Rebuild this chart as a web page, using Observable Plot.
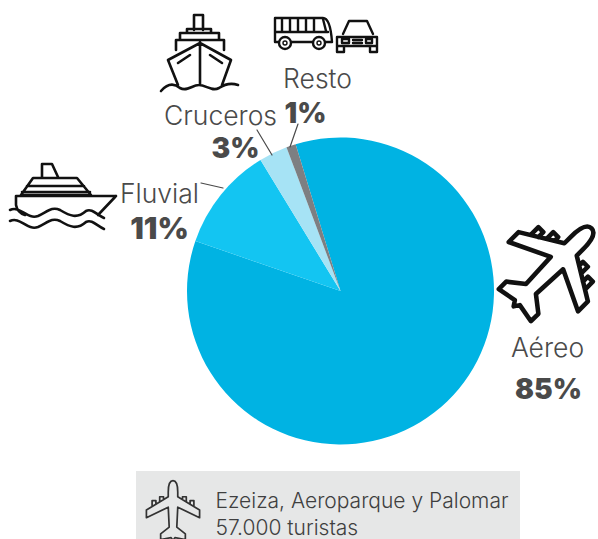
<!DOCTYPE html>
<html>
<head>
<meta charset="utf-8">
<script src="https://cdn.jsdelivr.net/npm/d3@7"></script>
<script src="https://cdn.jsdelivr.net/npm/@observablehq/plot@0.6"></script>
<style>
html,body{margin:0;padding:0;background:#fff}
svg{display:block}
</style>
</head>
<body>
<div id="chart"></div>
<script>
const categories = ["Aéreo", "Fluvial", "Cruceros", "Resto"];
const shares = [85, 11, 3, 1];
const sliceColors = ["#00b3e3", "#13c5f2", "#a6e3f5", "#7d7f82"];
const boxLines = ["Ezeiza, Aeroparque y Palomar", "57.000 turistas"];

const rows = categories.map((medio, i) => ({medio, share: shares[i]}));
const W = 598, H = 539, CX = 340.5, CY = 291, R = 153.5;
const START = -17 * Math.PI / 180;
const INK = "#4a4a4a";

const pie = Plot.barX(rows, {
  x: "share",
  fill: "medio",
  render(index, scales, values) {
    const arc = d3.arc().innerRadius(0).outerRadius(R);
    const g = d3.create("svg:g").attr("transform", `translate(${CX},${CY})`);
    for (const i of index) {
      g.append("path")
        .attr("d", arc({startAngle: START + values.x1[i], endAngle: START + values.x2[i]}))
        .attr("fill", values.fill[i]);
    }
    return g.node();
  }
});

const planePath = "M0,-32 C4,-32 5,-26 5,-20 L5,-15 L28,-1 L28,7 L5,-4 L4,17 L13,24 L13,30 L2,28 L0,31 L-2,28 L-13,30 L-13,24 L-4,17 L-5,-4 L-28,7 L-28,-1 L-5,-15 L-5,-20 C-5,-26 -4,-32 0,-32 Z M10,-12 L10,-15 L14,-15 L14,-10 M18,-7 L18,-11 L22,-11 L22,-5 M-10,-12 L-10,-15 L-14,-15 L-14,-10 M-18,-7 L-18,-11 L-22,-11 L-22,-5";

const icons = [
  {t: "translate(552,268) rotate(45) scale(1.75)", sw: 2.6, d: planePath},
  {t: "translate(173,511) scale(0.95)", sw: 1.8, c: "#333", d: planePath},
  {t: "", sw: 2.6, d: "M194,30 L194,15 L203,15 L203,30 M187,33 L187,29 L211,29 L211,33 M180,40 L180,33 L219,33 L219,40 M176,50 L176,40 L224,40 L224,50 M200,42 L200,85 M200,43 L231,60 L222,85 M200,43 L168,60 L178,85 M178,63 L190,55 M222,63 L210,55 M161,91 C168,83 174,83 180,88 C187,92 192,85 199,85 C206,85 212,92 219,88 C225,84 232,83 238,85"},
  {t: "", sw: 2.6, d: "M42,178 L42,164 L52,164 L58,177 M33,178 L77,178 L91,195 L21,195 Z M27,186 L84,186 M22,192 L90,192 M116,196 L16,196 L16,205 C17,211 22,214 25,215 M116,196 L98,215 M10,210 C20,205 27,220 38,216 C47,212 52,206 60,210 C70,216 77,219 86,211 C92,208 97,215 104,218 M10,221 C20,216 27,231 38,227 C47,223 52,217 60,221 C70,227 77,230 86,222 C92,219 97,226 104,229"},
  {t: "", sw: 2.4, d: "M275,18 L323,18 C328,18 331,28 332,42 L275,42 Z M275,32 L328,32 M282,19 L282,31 M290,19 L290,31 M298,19 L298,31 M306,19 L306,31 M314,19 L314,31 M323,19 L326,31"},
  {t: "", sw: 2.4, d: "M343,34 L349,21 L367,21 L373,34 M337,37 L377,37 L377,46 L337,46 Z M337,46 L337,52 L344,52 L344,46 M370,46 L370,52 L377,52 L377,46 M342,39 L349,39 L349,43 L342,43 Z M366,39 L372,39 L372,43 L366,43 Z M353,40 L362,40 M353,43 L362,43"}
];
const wheels = [[285, 43], [319, 43]];
const leaders = [
  [201, 183, 223, 188],
  [257, 130, 272, 155],
  [298, 124, 290, 147]
];

function decor() {
  const g = d3.create("svg:g").attr("fill", "none").attr("stroke", "#111")
    .attr("stroke-linejoin", "round").attr("stroke-linecap", "round");
  for (const ic of icons) {
    g.append("path").attr("d", ic.d).attr("transform", ic.t || null)
      .attr("stroke-width", ic.sw).attr("stroke", ic.c || "#111")
      .attr("fill", "none");
  }
  for (const [x, y] of wheels) {
    g.append("circle").attr("cx", x).attr("cy", y).attr("r", 6).attr("fill", "#fff").attr("stroke-width", 2.4);
    g.append("circle").attr("cx", x).attr("cy", y).attr("r", 2).attr("stroke-width", 1.4);
  }
  for (const [a, b, c, d] of leaders) {
    g.append("line").attr("x1", a).attr("y1", b).attr("x2", c).attr("y2", d)
      .attr("stroke", INK).attr("stroke-width", 1.2);
  }
  return g.node();
}

function backdrop() {
  return d3.create("svg:rect").attr("x", 136).attr("y", 471).attr("width", 384).attr("height", 68)
    .attr("fill", "#e6e7e7").node();
}

const FONT = "Inter";
const txt = (s, x, y, size, weight, anchor, fill) =>
  Plot.text([s], {
    text: d => d, frameAnchor: "top-left", dx: x, dy: y,
    textAnchor: anchor, lineAnchor: "bottom",
    fontSize: size, fontWeight: weight, fontFamily: FONT, fill: fill || INK
  });

const chart = Plot.plot({
  width: W, height: H,
  margin: 0,
  x: {domain: [0, 100], range: [0, 2 * Math.PI], axis: null},
  color: {domain: categories, range: sliceColors},
  marks: [
    backdrop,
    pie,
    decor,
    txt(categories[0], 547, 356, 26.5, 300, "middle"),
    txt(shares[0] + "%", 548, 398, 28, 900, "middle"),
    txt(categories[1], 159, 202, 26.5, 300, "middle"),
    txt(shares[1] + "%", 159, 238, 30, 900, "middle"),
    txt(categories[2], 220, 124, 26.5, 300, "middle"),
    txt(shares[2] + "%", 235, 157, 28, 900, "middle"),
    txt(categories[3], 317, 87, 26.5, 300, "middle"),
    txt(shares[3] + "%", 305, 122, 28, 900, "middle"),
    txt(boxLines[0], 215, 507, 21, 300, "start", "#3f3f3f"),
    txt(boxLines[1], 215, 534, 21, 300, "start", "#3f3f3f")
  ]
});
document.getElementById("chart").append(chart);
</script>
</body>
</html>
